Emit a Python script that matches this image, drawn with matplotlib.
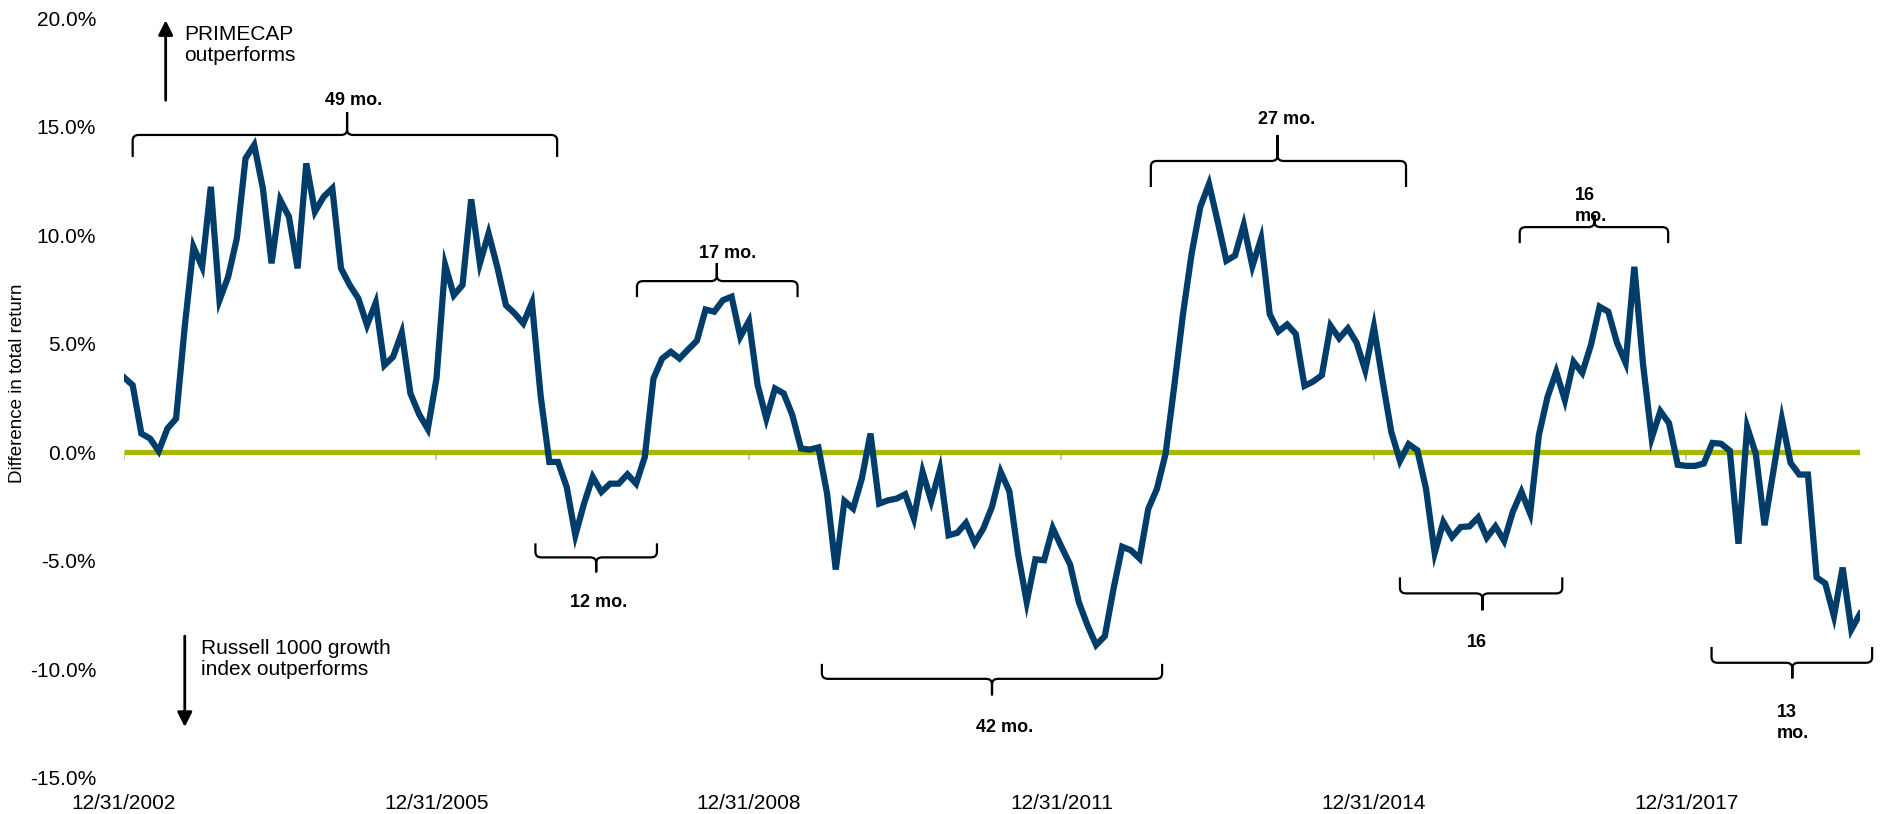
"""PRIMECAP vs Russell 1000 Growth: rolling difference in total return, monthly 12/2002 - 8/2019."""
import matplotlib
matplotlib.use("Agg")
import matplotlib.pyplot as plt
from matplotlib.path import Path
from matplotlib.patches import PathPatch

plt.rcParams['font.family'] = ['Liberation Sans', 'DejaVu Sans']

# monthly values (%), month 0 = 12/31/2002
diff_pct = [
    3.45, 3.09, 0.86, 0.63, 0.05, 1.09, 1.55, 5.80, 9.47, 8.55,
    12.24, 7.01, 8.09, 9.86, 13.55, 14.17, 12.17, 8.71, 11.63, 10.86,
    8.48, 13.32, 11.09, 11.78, 12.17, 8.48, 7.71, 7.09, 5.86, 6.89,
    4.01, 4.40, 5.51, 2.71, 1.75, 1.07, 3.40, 8.63, 7.24, 7.71,
    11.66, 8.71, 10.09, 8.55, 6.78, 6.40, 5.94, 6.89, 2.60, -0.45,
    -0.45, -1.60, -3.83, -2.37, -1.14, -1.83, -1.45, -1.45, -1.02, -1.45,
    -0.22, 3.40, 4.32, 4.63, 4.32, 4.74, 5.14, 6.58, 6.48, 7.01,
    7.17, 5.32, 6.05, 3.09, 1.55, 2.94, 2.71, 1.71, 0.17, 0.12,
    0.22, -1.91, -5.41, -2.25, -2.60, -1.22, 0.86, -2.37, -2.22, -2.14,
    -1.94, -3.06, -0.91, -2.25, -0.80, -3.83, -3.72, -3.26, -4.18, -3.52,
    -2.52, -0.91, -1.80, -4.69, -6.91, -4.94, -4.98, -3.50, -4.36, -5.18,
    -6.91, -7.98, -8.89, -8.48, -6.30, -4.36, -4.52, -4.90, -2.62, -1.69,
    -0.07, 3.06, 6.36, 9.16, 11.31, 12.37, 10.64, 8.83, 9.07, 10.48,
    8.58, 9.85, 6.36, 5.57, 5.89, 5.45, 3.06, 3.26, 3.55, 5.83,
    5.25, 5.71, 5.05, 3.78, 5.78, 3.30, 0.94, -0.40, 0.37, 0.09,
    -1.68, -4.65, -3.22, -3.91, -3.45, -3.42, -3.01, -3.94, -3.42, -4.09,
    -2.75, -1.83, -2.83, 0.78, 2.55, 3.71, 2.40, 4.17, 3.66, 4.94,
    6.71, 6.48, 5.05, 4.12, 8.55, 4.08, 0.65, 1.89, 1.34, -0.58,
    -0.63, -0.63, -0.52, 0.43, 0.39, 0.07, -4.22, 1.16, -0.08, -3.37,
    -0.94, 1.52, -0.49, -1.03, -1.03, -5.77, -6.05, -7.56, -5.32, -8.18,
    -7.45,
]
months = list(range(len(diff_pct)))

xtick_pos = [0, 36, 72, 108, 144, 180]
xtick_labels = ['12/31/2002', '12/31/2005', '12/31/2008',
                '12/31/2011', '12/31/2014', '12/31/2017']
ytick_vals = [-15, -10, -5, 0, 5, 10, 15, 20]

# streak braces: label, x0, x1, tip x, line y, end y, tip y, label x, label y, ha
braces = [
    ('49 mo.',   1.0,  49.9,  25.7,  14.63, 13.61, 15.69,  26.5,  16.24, 'center'),
    ('17 mo.',  59.1,  77.6,  68.3,   7.89,  7.15,  8.72,  69.5,   9.18, 'center'),
    ('12 mo.',  47.4,  61.4,  54.4,  -4.85, -4.20, -5.54,  54.7,  -6.92, 'center'),
    ('42 mo.',  80.4, 119.6, 100.0, -10.45, -9.76, -11.21, 101.5, -12.69, 'center'),
    ('27 mo.', 118.3, 147.7, 132.9,  13.43, 12.23, 14.63, 133.9,  15.32, 'center'),
    ('16\nmo.', 160.8, 177.9, 169.4, 10.38,  9.64, 10.94, 167.1,  11.35, 'left'),
    ('16',     147.0, 165.7, 156.5,  -6.51, -5.77, -7.29, 155.9,  -8.77, 'center'),
    ('13\nmo.', 182.9, 201.4, 192.2, -9.71, -8.98, -10.43, 190.4, -12.50, 'left'),
]


def draw_brace(ax, x0, x1, xm, y_line, y_end, y_tip):
    rx, ry = 0.7, 0.25
    se = 1 if y_end > y_line else -1
    st = 1 if y_tip > y_line else -1
    verts = [(x0, y_end), (x0, y_line + se * ry), (x0, y_line), (x0 + rx, y_line),
             (xm - rx, y_line), (xm, y_line), (xm, y_line + st * ry), (xm, y_tip),
             (xm, y_line + st * ry), (xm, y_line), (xm + rx, y_line),
             (x1 - rx, y_line), (x1, y_line), (x1, y_line + se * ry), (x1, y_end)]
    codes = [Path.MOVETO, Path.LINETO, Path.CURVE3, Path.CURVE3,
             Path.LINETO, Path.CURVE3, Path.CURVE3, Path.LINETO,
             Path.LINETO, Path.CURVE3, Path.CURVE3,
             Path.LINETO, Path.CURVE3, Path.CURVE3, Path.LINETO]
    ax.add_patch(PathPatch(Path(verts, codes), fill=False, lw=1.6,
                           edgecolor='black', clip_on=False, zorder=4))


fig = plt.figure(figsize=(18.81, 8.14), dpi=100)
ax = fig.add_axes([124 / 1881, 1 - 777.5 / 814, 1736 / 1881, 759 / 814])

# small grey ticks on the zero line
ax.vlines(xtick_pos, -0.35, 0, color='#c8c8c8', lw=1.5, zorder=1)
ax.axhline(0, color='#a9b700', lw=3.8, solid_capstyle='butt', zorder=2)
ax.plot(months, diff_pct, color='#003d6b', lw=4.5, solid_joinstyle='miter', zorder=3)

for label, x0, x1, xm, yl, ye, yt, tx, ty, ha in braces:
    draw_brace(ax, x0, x1, xm, yl, ye, yt)
    ax.text(tx, ty, label, ha=ha, va='center', fontsize=13, fontweight='bold',
            linespacing=1.3, clip_on=False, zorder=5)

# direction arrows
ax.annotate('', xy=(4.8, 20.05), xytext=(4.8, 16.1), annotation_clip=False,
            arrowprops=dict(arrowstyle='-|>', color='black', lw=2, mutation_scale=22))
ax.text(6.9, 18.78, 'PRIMECAP\noutperforms', fontsize=15, va='center', ha='left',
        linespacing=1.15)
ax.annotate('', xy=(7.0, -12.8), xytext=(7.0, -8.35), annotation_clip=False,
            arrowprops=dict(arrowstyle='-|>', color='black', lw=2, mutation_scale=22))
ax.text(8.84, -9.53, 'Russell 1000 growth\nindex outperforms', fontsize=15,
        va='center', ha='left', linespacing=1.15)

ax.set_xlim(0, 200)
ax.set_ylim(-15, 20)
ax.set_xticks(xtick_pos)
ax.set_xticklabels(xtick_labels)
ax.set_yticks(ytick_vals)
ax.set_yticklabels(['%.1f%%' % v for v in ytick_vals])
ax.tick_params(axis='both', length=0, labelsize=15)
ax.tick_params(axis='x', pad=12)
ax.tick_params(axis='y', pad=20)
for s in ax.spines.values():
    s.set_visible(False)

fig.text(18 / 1881, 1 - 383 / 814, 'Difference in total return', rotation=90,
         ha='center', va='center', fontsize=13.5)

fig.savefig('out.png', dpi=100)
